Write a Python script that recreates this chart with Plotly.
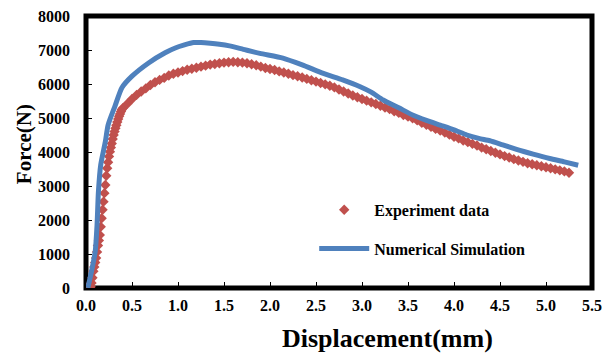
import plotly.graph_objects as go

# Experiment data (displacement mm, force N)
exp_disp = [0.00, 0.01, 0.02, 0.03, 0.04, 0.05, 0.06, 0.07, 0.08, 0.09,
            0.10, 0.11, 0.12, 0.13, 0.14, 0.15, 0.16, 0.17, 0.18, 0.19,
            0.20, 0.21, 0.22, 0.23, 0.24, 0.25, 0.26, 0.27, 0.28, 0.29,
            0.30, 0.31, 0.32, 0.33, 0.34, 0.35, 0.36, 0.37, 0.38, 0.39,
            0.40, 0.45, 0.50, 0.55, 0.60, 0.65, 0.70, 0.75, 0.80, 0.85,
            0.90, 0.95, 1.00, 1.05, 1.10, 1.15, 1.20, 1.25, 1.30, 1.35,
            1.40, 1.45, 1.50, 1.55, 1.60, 1.65, 1.70, 1.75, 1.80, 1.85,
            1.90, 1.95, 2.00, 2.05, 2.10, 2.15, 2.20, 2.25, 2.30, 2.35,
            2.40, 2.45, 2.50, 2.55, 2.60, 2.65, 2.70, 2.75, 2.80, 2.85,
            2.90, 2.95, 3.00, 3.05, 3.10, 3.15, 3.20, 3.25, 3.30, 3.35,
            3.40, 3.45, 3.50, 3.55, 3.60, 3.65, 3.70, 3.75, 3.80, 3.85,
            3.90, 3.95, 4.00, 4.05, 4.10, 4.15, 4.20, 4.25, 4.30, 4.35,
            4.40, 4.45, 4.50, 4.55, 4.60, 4.65, 4.70, 4.75, 4.80, 4.85,
            4.90, 4.95, 5.00, 5.05, 5.10, 5.15, 5.20, 5.25]
exp_force = [0, 0, 0, 0, 0, 40, 150, 300, 490, 620,
             750, 880, 1060, 1250, 1400, 1560, 1800, 2050, 2300, 2540,
             2790, 3030, 3300, 3520, 3700, 3870, 4010, 4130, 4250, 4380,
             4500, 4600, 4700, 4790, 4880, 4970, 5050, 5120, 5190, 5250,
             5290, 5420, 5560, 5680, 5780, 5870, 5970, 6050, 6120, 6180,
             6250, 6300, 6340, 6380, 6420, 6450, 6480, 6510, 6540, 6570,
             6590, 6610, 6630, 6640, 6650, 6640, 6630, 6610, 6580, 6550,
             6510, 6470, 6440, 6410, 6370, 6340, 6300, 6260, 6230, 6190,
             6150, 6110, 6070, 6030, 5990, 5950, 5900, 5840, 5780, 5720,
             5660, 5610, 5560, 5510, 5460, 5410, 5360, 5310, 5260, 5200,
             5150, 5090, 5040, 4990, 4930, 4860, 4800, 4740, 4680, 4630,
             4570, 4510, 4450, 4400, 4340, 4290, 4240, 4190, 4130, 4080,
             4030, 3980, 3930, 3880, 3840, 3790, 3750, 3710, 3670, 3640,
             3610, 3580, 3550, 3520, 3490, 3460, 3430, 3390]

# Numerical simulation
num_disp = [0.02, 0.06, 0.10, 0.12, 0.135, 0.16, 0.21, 0.24, 0.315, 0.39,
            0.50, 0.68, 0.86, 0.97, 1.07, 1.17, 1.25, 1.35, 1.45, 1.56,
            1.71, 1.89, 2.14, 2.35, 2.58, 2.79, 2.98, 3.10, 3.23, 3.40,
            3.55, 3.70, 3.85, 4.00, 4.14, 4.27, 4.39, 4.53, 4.68, 4.86,
            5.04, 5.20, 5.35]
num_force = [0, 490, 1070, 1850, 2830, 3620, 4300, 4790, 5350, 5890,
             6230, 6620, 6920, 7060, 7150, 7220, 7220, 7200, 7170, 7120,
             7020, 6900, 6760, 6560, 6310, 6120, 5920, 5760, 5530, 5300,
             5090, 4930, 4790, 4650, 4500, 4400, 4330, 4210, 4080, 3940,
             3810, 3710, 3610]

x_ticks = [0.0, 0.5, 1.0, 1.5, 2.0, 2.5, 3.0, 3.5, 4.0, 4.5, 5.0, 5.5]
y_ticks = [0, 1000, 2000, 3000, 4000, 5000, 6000, 7000, 8000]
x_title = "Displacement(mm)"
y_title = "Force(N)"

FONT = '"Liberation Serif", "Times New Roman", Times, serif'
RED = "#C0504D"
BLUE = "#4F81BD"

fig = go.Figure()
fig.add_trace(go.Scatter(
    x=exp_disp, y=exp_force, mode="markers", name="Experiment data",
    legendgroup="a",
    marker=dict(symbol="diamond", size=8, color=RED, line=dict(width=0)),
))
fig.add_trace(go.Scatter(
    x=num_disp, y=num_force, mode="lines", name="Numerical Simulation",
    legendgroup="b",
    line=dict(color=BLUE, width=5, shape="spline", smoothing=0.6),
))

fig.update_layout(
    width=602, height=353,
    margin=dict(l=86, r=10, t=16, b=65, autoexpand=False),
    paper_bgcolor="white", plot_bgcolor="white",
    font=dict(family=FONT, size=16, color="black"),
    showlegend=True,
    legend=dict(
        x=0.451, y=0.35, xanchor="left", yanchor="top",
        bgcolor="rgba(0,0,0,0)", borderwidth=0,
        font=dict(family=FONT, size=16, color="black", weight="bold"),
        tracegroupgap=15, itemwidth=50,
    ),
    shapes=[dict(type="rect", xref="paper", yref="paper", x0=0, x1=1, y0=0, y1=1,
                 line=dict(color="black", width=5), layer="below")],
    annotations=[
        dict(text=x_title, xref="paper", yref="paper", x=0.595, y=-0.184,
             xanchor="center", yanchor="middle", showarrow=False,
             font=dict(family=FONT, size=26, color="black", weight="bold")),
        dict(text=y_title, xref="paper", yref="paper", x=-0.1225, y=0.529,
             xanchor="center", yanchor="middle", showarrow=False, textangle=-90,
             font=dict(family=FONT, size=21, color="black", weight="bold")),
    ],
)
fig.update_xaxes(
    range=[0, 5.5], tickvals=x_ticks, ticktext=[f"{v:.1f}" for v in x_ticks],
    showgrid=False, zeroline=False, showline=False, automargin=False,
    ticks="inside", ticklen=6, tickwidth=1, tickcolor="black",
    tickfont=dict(family=FONT, size=16, color="black", weight="bold"),
    ticklabelstandoff=6, ticklabeloverflow="allow",
)
fig.update_yaxes(
    range=[0, 8000], tickvals=y_ticks, ticktext=[str(v) for v in y_ticks],
    showgrid=False, zeroline=False, showline=False, automargin=False,
    ticks="inside", ticklen=6, tickwidth=1, tickcolor="black",
    tickfont=dict(family=FONT, size=16, color="black", weight="bold"),
    ticklabelstandoff=15, ticklabeloverflow="allow",
)

fig.write_html(
    "out.html",
    config={"displayModeBar": False},
    post_script="document.body.style.margin='0';document.body.style.overflow='hidden';",
)
